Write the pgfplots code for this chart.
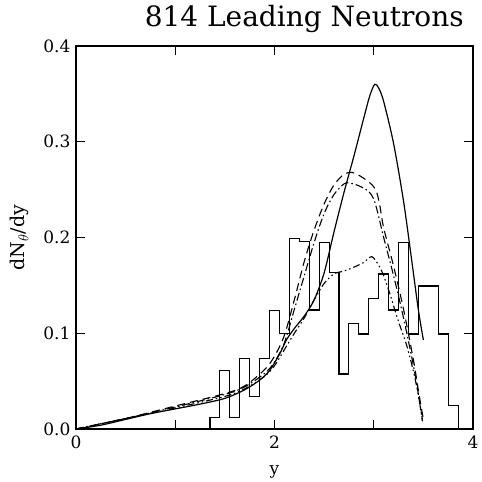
\documentclass[border=0pt]{standalone}
\usepackage{fontspec}
\setmainfont{DejaVu Serif}
\usepackage{pgfplots}
\pgfplotsset{compat=1.18}
\begin{document}
\begin{tikzpicture}
\begin{axis}[
  scale only axis, width=397pt, height=383pt,
  xmin=0, xmax=4, ymin=0, ymax=0.4,
  axis line style={line width=1.2pt},
  major tick length=9pt,
  tick style={black, line width=1.4pt},
  tick align=inside,
  xtick={0,1,2,3,4}, xticklabels={0,,2,,4},
  ytick={0,0.1,0.2,0.3,0.4},
  yticklabel style={/pgf/number format/fixed, /pgf/number format/precision=1, /pgf/number format/fixed zerofill},
  /pgf/number format/assume math mode=true,
  ticklabel style={font=\fontsize{17}{20}\selectfont},
  xticklabel style={yshift=-3pt},
  yticklabel style={xshift=-2pt},
  xlabel={y}, ylabel={dN$_\theta$/dy},
  xlabel style={font=\fontsize{17}{20}\selectfont, yshift=-10pt},
  ylabel style={font=\fontsize{19}{22}\selectfont, yshift=8pt},
  title={814 Leading Neutrons},
  title style={font=\fontsize{28}{32}\selectfont, at={(axis description cs:0.575,1.036)}, anchor=base},
  clip=true,
]
% histogram
\addplot[const plot mark left, black, line width=1.1pt] coordinates {
(1.35,0) (1.35,0.0123) (1.45,0.0614) (1.55,0.0123) (1.65,0.0737) (1.75,0.0340)
(1.85,0.0737) (1.95,0.1235) (2.05,0.0995) (2.15,0.1990) (2.25,0.1955) (2.35,0.1243)
(2.45,0.1946) (2.55,0.1633) (2.65,0.0574) (2.75,0.1106) (2.85,0.0992) (2.95,0.1365)
(3.05,0.1619) (3.15,0.1243) (3.25,0.1946) (3.35,0.0992) (3.45,0.1493) (3.55,0.1493)
(3.65,0.0992) (3.75,0.0244) (3.85,0)
};
% solid curve
\addplot[black, line width=1.2pt, smooth] coordinates {
(0,0) (0.25,0.004) (0.5,0.010) (0.75,0.016) (1.0,0.021) (1.25,0.026) (1.5,0.032)
(1.7,0.041) (1.85,0.051) (1.95,0.061) (2.05,0.078) (2.12,0.093) (2.2,0.105) (2.3,0.118)
(2.4,0.135) (2.5,0.163) (2.6,0.206) (2.7,0.247) (2.8,0.285) (2.9,0.325) (2.96,0.348)
(3.01,0.360) (3.05,0.356) (3.1,0.342) (3.2,0.298) (3.3,0.238) (3.38,0.178) (3.45,0.124) (3.5,0.093)
};
% long dashed (upper arc)
\addplot[black, line width=1.1pt, dash pattern=on 8pt off 5pt, smooth] coordinates {
(0,0) (0.5,0.011) (1.0,0.024) (1.5,0.037) (1.7,0.045) (1.9,0.062) (2.0,0.076) (2.1,0.098)
(2.2,0.135) (2.3,0.175) (2.4,0.208) (2.5,0.235) (2.6,0.255) (2.7,0.266) (2.78,0.268)
(2.85,0.265) (2.95,0.258) (3.02,0.250) (3.06,0.234) (3.1,0.210) (3.2,0.170) (3.3,0.125)
(3.4,0.072) (3.45,0.040) (3.5,0.010)
};
% dash-dot (lower arc)
\addplot[black, line width=1.1pt, dash pattern=on 8pt off 3pt on 1.5pt off 3pt, smooth] coordinates {
(0,0) (0.5,0.011) (1.0,0.023) (1.5,0.036) (1.7,0.044) (1.9,0.058) (2.0,0.070) (2.1,0.090)
(2.2,0.125) (2.3,0.160) (2.4,0.195) (2.5,0.225) (2.6,0.245) (2.7,0.256) (2.75,0.257)
(2.85,0.254) (2.95,0.248) (3.0,0.240) (3.04,0.226) (3.1,0.200) (3.2,0.160) (3.3,0.116)
(3.4,0.066) (3.45,0.036) (3.49,0.008)
};
% dash-dot-dot
\addplot[black, line width=1.1pt, dash pattern=on 7pt off 3pt on 1.5pt off 3pt on 1.5pt off 3pt, smooth] coordinates {
(0,0) (0.5,0.011) (1.0,0.022) (1.5,0.034) (1.7,0.042) (1.9,0.055) (2.0,0.066) (2.1,0.083)
(2.2,0.100) (2.3,0.116) (2.4,0.135) (2.5,0.152) (2.6,0.162) (2.7,0.165) (2.8,0.169)
(2.9,0.174) (2.98,0.180) (3.05,0.171) (3.1,0.160) (3.16,0.142) (3.25,0.112) (3.33,0.088)
(3.4,0.060) (3.45,0.035) (3.49,0.010)
};
\end{axis}
\path (current axis.south west) ++(-76pt,-53pt) coordinate (bl);
\path (current axis.north east) ++(4pt,46pt) coordinate (tr);
\path (bl) (tr);
\end{tikzpicture}
\end{document}
